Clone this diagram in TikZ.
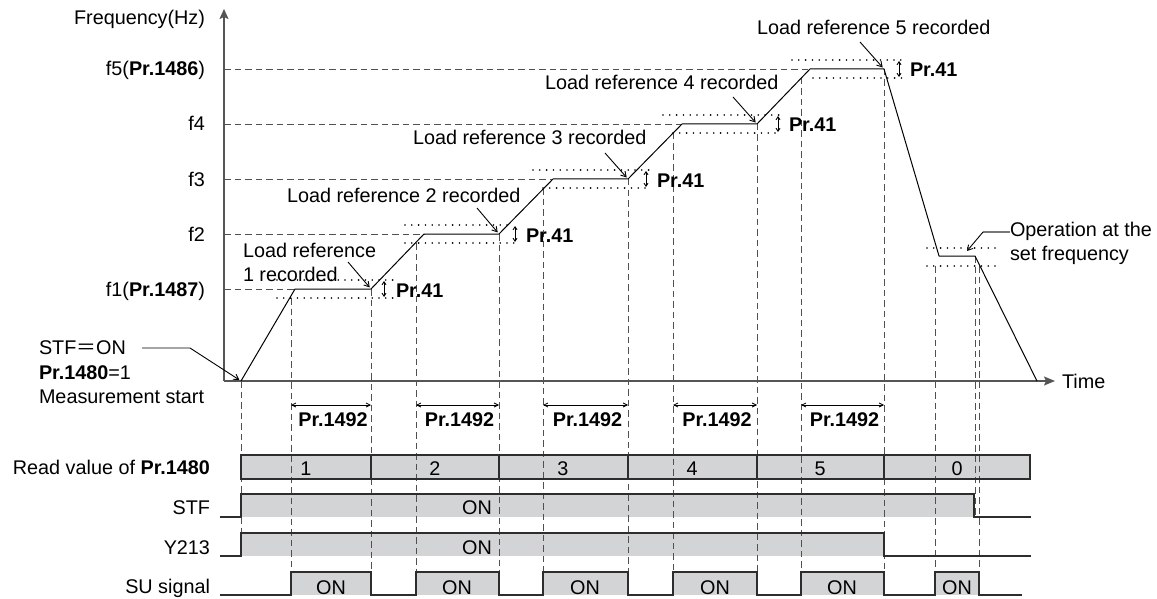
\documentclass[tikz,border=0pt]{standalone}
\usepackage{fontspec}
\setmainfont{Liberation Sans}
\newfontfamily\cjkf{Noto Sans CJK JP}
\usetikzlibrary{arrows.meta}
\definecolor{boxgray}{RGB}{211,212,214}
\definecolor{axisgray}{RGB}{85,85,85}
\definecolor{dashgray}{RGB}{80,80,80}
\definecolor{lined}{RGB}{45,45,45}
\definecolor{leadgray}{RGB}{120,120,120}
\begin{document}
\begin{tikzpicture}[x=1pt,y=-1pt,
  every node/.style={inner sep=0pt, outer sep=0pt},
  txt/.style={font=\fontsize{19.8pt}{24.5pt}\selectfont, text=black},
  axisline/.style={draw=axisgray, line width=1.5pt},
  guide/.style={draw=dashgray, line width=0.9pt, dash pattern=on 6.5pt off 4pt},
  band/.style={draw=black, line width=1.8pt, dash pattern=on 0pt off 6.8pt, line cap=round},
  wave/.style={draw=black, line width=1pt, line join=round},
  leader/.style={draw=black, line width=0.9pt, -{Straight Barb[length=5pt,width=6pt]}},
  tol/.style={draw=black, line width=0.9pt, {Straight Barb[length=3pt,width=4pt]}-{Straight Barb[length=3pt,width=4pt]}},
  spanarrow/.style={draw=black, line width=0.8pt, {Straight Barb[length=4pt,width=4pt]}-{Straight Barb[length=4pt,width=4pt]}},
  sig/.style={draw=lined, line width=1.2pt},
]
\useasboundingbox (0,0) rectangle (1157,599);

% ---------- key coordinates ----------
\coordinate (O) at (224,381);
\coordinate (ytop) at (224,9);
\coordinate (xend) at (1055,381);
\coordinate (w0) at (241,381);
\coordinate (w1a) at (295,289); \coordinate (w1b) at (371,289);
\coordinate (w2a) at (424,234); \coordinate (w2b) at (499,234);
\coordinate (w3a) at (553,179); \coordinate (w3b) at (628,179);
\coordinate (w4a) at (682,124); \coordinate (w4b) at (757,124);
\coordinate (w5a) at (810,69);  \coordinate (w5b) at (884,69);
\coordinate (wsa) at (939,256); \coordinate (wsb) at (975,256);
\coordinate (we) at (1037,381);

% ---------- timing fills ----------
\fill[boxgray] (241,455) rectangle (1030,479);
\fill[boxgray] (241,494) rectangle (974,517);
\fill[boxgray] (241,533) rectangle (884,556);
\foreach \a/\b in {291/371,416/499,543/628,673/757,801/884,935/979}
  \fill[boxgray] (\a,572) rectangle (\b,595);

% ---------- horizontal guides ----------
\draw[guide] (O|-w5a) -- (w5a);
\draw[guide] (O|-w4a) -- (w4a);
\draw[guide] (O|-w3a) -- (w3a);
\draw[guide] (O|-w2a) -- (w2a);
\draw[guide] (O|-w1a) -- (w1a);

% ---------- vertical guides ----------
\draw[guide] (241,381) -- (241,533);
\foreach \x/\y in {291/298,371/289,416/243,499/234,543/188,628/179,673/133,757/124,801/78,884/69,935/266,979/266}
  \draw[guide] (\x,\y) -- (\x,572);
\draw[guide] (975,256) -- (975,517);

% ---------- tolerance bands (Pr.41) ----------
\draw[band] (277,280) -- (393,280);  \draw[band] (277,298) -- (393,298);
\draw[band] (405,225) -- (512,225);  \draw[band] (405,243) -- (515,243);
\draw[band] (533,170) -- (650,170);  \draw[band] (543,188) -- (650,188);
\draw[band] (663,115) -- (780,115);  \draw[band] (673,133) -- (780,133);
\draw[band] (792,60) -- (902,60);    \draw[band] (813,78) -- (902,78);
\draw[band] (927,248) -- (995,248);  \draw[band] (927,266) -- (995,266);

\foreach \x/\y in {384/289,515/234,646/179,778/124,899/69}
  \draw[tol] (\x,\y-8) -- (\x,\y+8);
\node[txt, anchor=base west] (p41a) at (396,297) {\textbf{Pr.41}};
\node[txt, anchor=base west] (p41b) at (526,242) {\textbf{Pr.41}};
\node[txt, anchor=base west] (p41c) at (657,187) {\textbf{Pr.41}};
\node[txt, anchor=base west] (p41d) at (789,132) {\textbf{Pr.41}};
\node[txt, anchor=base west] (p41e) at (910,77) {\textbf{Pr.41}};

% ---------- axes ----------
\draw[axisline, -{Stealth[length=10pt,width=9pt,inset=2pt]}] (O) -- (ytop);
\draw[axisline, -{Stealth[length=11pt,width=9pt,inset=2pt]}] (O) -- (xend);

% ---------- waveform ----------
\draw[wave] (w0) -- (w1a) -- (w1b) -- (w2a) -- (w2b) -- (w3a) -- (w3b)
  -- (w4a) -- (w4b) -- (w5a) -- (w5b) -- (wsa) -- (wsb) -- (we);

% ---------- axis labels ----------
\node[txt, anchor=base east] (ylab) at (205,25) {Frequency(Hz)};
\node[txt, anchor=base east] (lf5) at (205,76) {f5(\textbf{Pr.1486})};
\node[txt, anchor=base east] (lf4) at (205,131) {f4};
\node[txt, anchor=base east] (lf3) at (205,186) {f3};
\node[txt, anchor=base east] (lf2) at (205,241) {f2};
\node[txt, anchor=base east] (lf1) at (205,296) {f1(\textbf{Pr.1487})};
\node[txt, anchor=base west] (ltime) at (1062,388) {Time};

% ---------- annotations ----------
\node[txt, anchor=base west] (lr5) at (757,35) {Load reference 5 recorded};
\node[txt, anchor=base west] (lr4) at (545,90) {Load reference 4 recorded};
\node[txt, anchor=base west] (lr3) at (413,145) {Load reference 3 recorded};
\node[txt, anchor=base west] (lr2) at (287,202) {Load reference 2 recorded};
\node[txt, anchor=west, align=left] (lr1) at (243,262.5) {Load reference\\1 recorded};

\coordinate (l5s) at (860,42);  \draw[leader, shorten >=2pt] (l5s) -- (w5b);
\coordinate (l4s) at (733,97);  \draw[leader, shorten >=2pt] (l4s) -- (w4b);
\coordinate (l3s) at (605,153); \draw[leader, shorten >=2pt] (l3s) -- (w3b);
\coordinate (l2s) at (477,208); \draw[leader, shorten >=2pt] (l2s) -- (w2b);
\coordinate (l1s) at (348,262); \draw[leader, shorten >=2pt] (l1s) -- (w1b);

\node[txt, anchor=west, align=left] (opset) at (1010,243.5) {Operation at the\\set frequency};
\coordinate (opk) at (983,232);
\coordinate (opt) at (967,251);
\draw[draw=leadgray, line width=1.2pt] (opset.west|-opk) -- (opk);
\draw[leader] (opk) -- (opt);

\node[txt, anchor=west, align=left] (start) at (39,372.5)
  {STF{\cjkf ＝}ON\\\textbf{Pr.1480}=1\\Measurement start};
\coordinate (stk1) at (142,348);
\coordinate (stk2) at (190,348);
\draw[leader, shorten >=2pt] (stk1) -- (stk2) -- (w0);

% ---------- Pr.1492 spans ----------
\foreach \a/\b in {291/371,416/499,543/628,673/757,801/884}{
  \draw[spanarrow] (\a,405) -- (\b,405);
  \node[txt, anchor=base] at ({(\a+\b)/2+2},426) {\textbf{Pr.1492}};
}

% ---------- timing chart ----------
\draw[sig] (241,455) rectangle (1030,479);
\foreach \x in {371,499,628,757,884}
  \draw[sig] (\x,455) -- (\x,479);
\foreach \x/\v in {306/1,435/2,563/3,692/4,820/5,957/0}
  \node[txt, anchor=base] at (\x,475) {\v};

\draw[sig] (220,517) -- (241,517) -- (241,494) -- (974,494) -- (974,517) -- (1031,517);
\draw[sig] (220,556) -- (241,556) -- (241,533) -- (884,533) -- (884,556) -- (1031,556);
\draw[sig] (220,595) -- (291,595) -- (291,572) -- (371,572) -- (371,595)
  -- (416,595) -- (416,572) -- (499,572) -- (499,595)
  -- (543,595) -- (543,572) -- (628,572) -- (628,595)
  -- (673,595) -- (673,572) -- (757,572) -- (757,595)
  -- (801,595) -- (801,572) -- (884,572) -- (884,595)
  -- (935,595) -- (935,572) -- (979,572) -- (979,595) -- (1022,595);

\node[txt, anchor=base] (onstf) at (477,514) {ON};
\node[txt, anchor=base] (ony) at (477,554) {ON};
\foreach \x in {331,457,585,715,842,957}
  \node[txt, anchor=base] at (\x,594) {ON};

\node[txt, anchor=base east] (lrv) at (210,474) {Read value of \textbf{Pr.1480}};
\node[txt, anchor=base east] (lstf) at (210,514) {STF};
\node[txt, anchor=base east] (ly) at (210,554) {Y213};
\node[txt, anchor=base east] (lsu) at (210,593) {SU signal};
\end{tikzpicture}
\end{document}
